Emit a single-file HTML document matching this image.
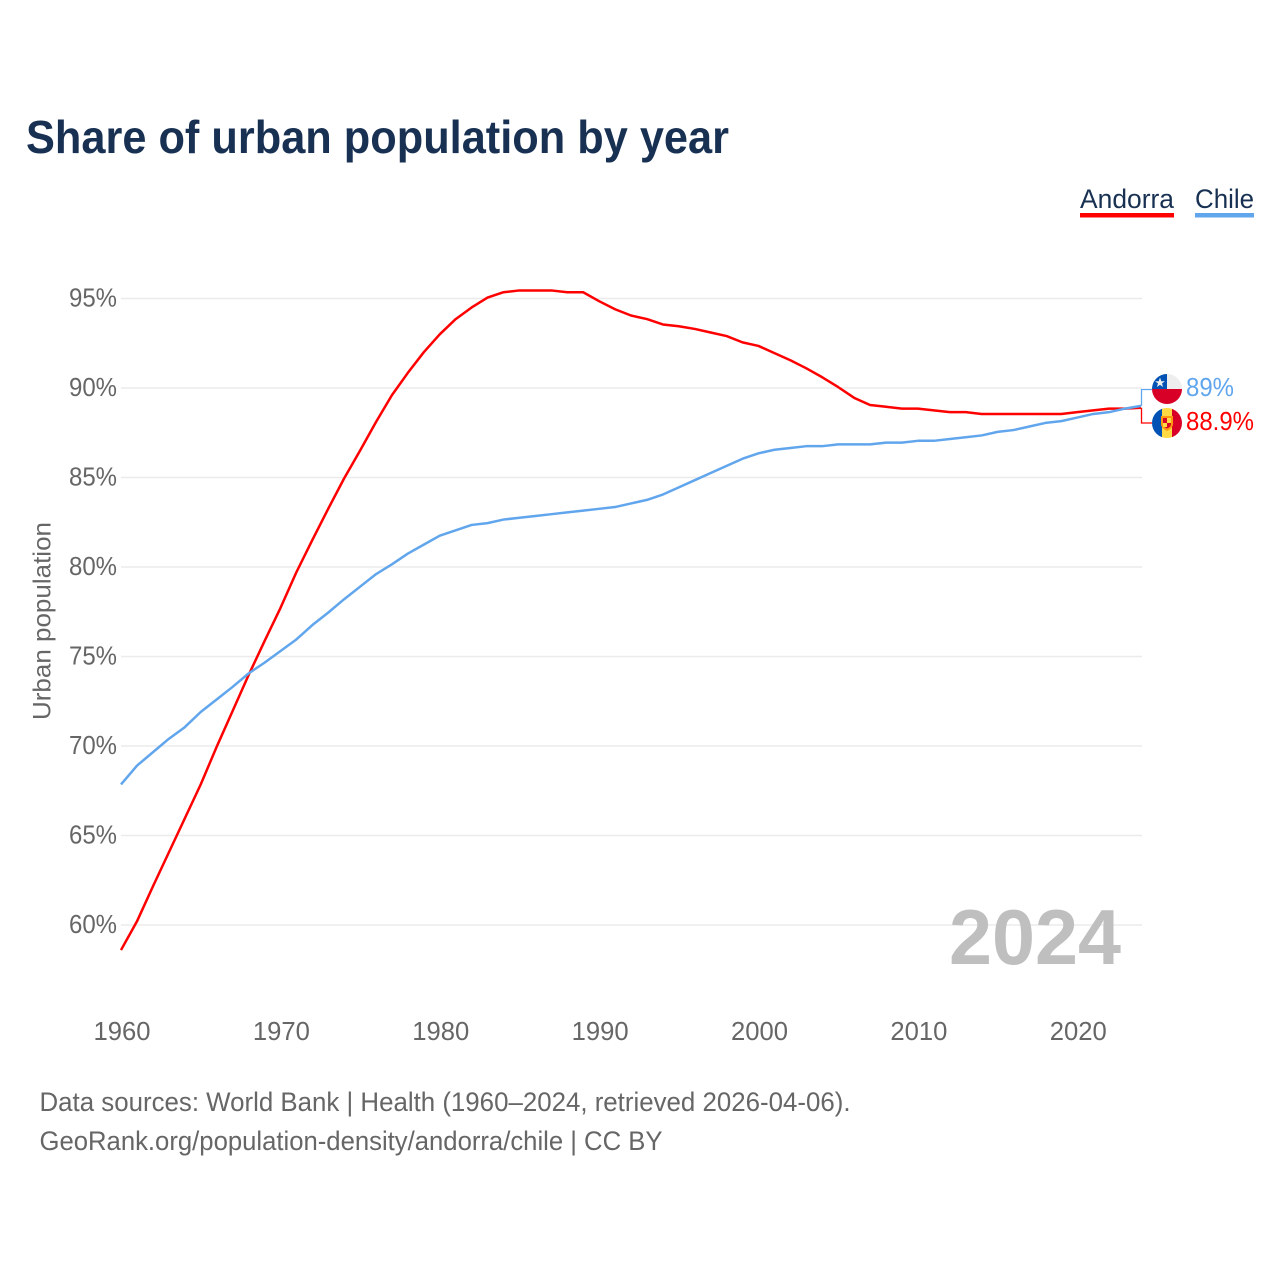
<!DOCTYPE html>
<html>
<head>
<meta charset="utf-8">
<title>Share of urban population by year</title>
<style>
html,body{margin:0;padding:0;background:#fff;width:1280px;height:1280px;overflow:hidden}
svg{display:block;font-family:"Liberation Sans",sans-serif}
</style>
</head>
<body>
<svg id="chart" xmlns="http://www.w3.org/2000/svg" width="1280" height="1280" viewBox="0 0 1280 1280">
  <defs>
    <clipPath id="clip-chile"><circle cx="1167" cy="389" r="15"/></clipPath>
    <clipPath id="clip-andorra"><circle cx="1167" cy="423" r="15"/></clipPath>
  </defs>
  <rect x="0" y="0" width="1280" height="1280" fill="#fff"/>
  <text x="26" y="153" font-size="46" font-weight="bold" fill="#183153" textLength="703" lengthAdjust="spacingAndGlyphs">Share of urban population by year</text>

  <g>
    <text x="1080" y="208" font-size="27" fill="#183153" textLength="94" lengthAdjust="spacingAndGlyphs">Andorra</text>
    <rect x="1080" y="213" width="94" height="4.500" fill="#ff0000"/>
  </g>
  <g>
    <text x="1195" y="208" font-size="27" fill="#183153" textLength="59" lengthAdjust="spacingAndGlyphs">Chile</text>
    <rect x="1195" y="213" width="59" height="4.500" fill="#61a6ed"/>
  </g>

  <g id="grid"></g>
  <g id="yticks"></g>
  <g id="xticks"></g>
  <text transform="translate(50.500,720) rotate(-90)" font-size="25" fill="#666" textLength="198" lengthAdjust="spacingAndGlyphs">Urban population</text>

  <text x="949" y="964" font-size="78" font-weight="bold" fill="#bfbfbf" textLength="172" lengthAdjust="spacingAndGlyphs">2024</text>

  <polyline id="line-andorra" fill="none" stroke="#ff0000" stroke-width="2.500" stroke-linejoin="round"/>
  <polyline id="line-chile" fill="none" stroke="#61a6ed" stroke-width="2.500" stroke-linejoin="round"/>

  <polyline id="connector-chile" fill="none" stroke="#61a6ed" stroke-width="1.300"/>
  <polyline id="connector-andorra" fill="none" stroke="#ff0000" stroke-width="1.300"/>

  <g clip-path="url(#clip-chile)">
    <rect x="1152" y="374" width="30" height="15" fill="#eeeeee"/>
    <rect x="1152" y="389" width="30" height="15" fill="#d80027"/>
    <rect x="1152" y="374" width="15" height="15" fill="#0052b4"/>
    <polygon points="1160,377.5 1161.3,381.2 1165,381.2 1162,383.4 1163.1,387 1160,384.9 1156.9,387 1158,383.4 1155,381.2 1158.7,381.2" fill="#eeeeee"/>
  </g>
  <g clip-path="url(#clip-andorra)">
    <rect x="1152" y="408" width="10" height="30" fill="#0052b4"/>
    <rect x="1162" y="408" width="10" height="30" fill="#ffda44"/>
    <rect x="1172" y="408" width="10" height="30" fill="#d80027"/>
    <path d="M1161 416h12v8q0 4-6 7q-6-3-6-7z" fill="#ff9811"/>
    <path d="M1163 418h8v6q0 3-4 4.500q-4-1.500-4-4.500z" fill="#d80027"/>
    <rect x="1167" y="418" width="4" height="5" fill="#ffda44"/>
    <rect x="1163" y="423" width="4" height="4" fill="#ffda44"/>
  </g>
  <text x="1186" y="396" font-size="26" fill="#61a6ed" textLength="48" lengthAdjust="spacingAndGlyphs">89%</text>
  <text x="1186" y="430" font-size="26" fill="#ff0000" textLength="68" lengthAdjust="spacingAndGlyphs">88.9%</text>

  <text x="39.500" y="1111" font-size="26.500" fill="#666" textLength="811" lengthAdjust="spacingAndGlyphs">Data sources: World Bank | Health (1960–2024, retrieved 2026-04-06).</text>
  <text x="39.500" y="1150" font-size="26.500" fill="#666" textLength="623" lengthAdjust="spacingAndGlyphs">GeoRank.org/population-density/andorra/chile | CC BY</text>
</svg>
<script>
const startYear = 1960;
const yTickValues = [60, 65, 70, 75, 80, 85, 90, 95];
const xTickValues = [1960, 1970, 1980, 1990, 2000, 2010, 2020];
const andorraValues = [58.6, 60.2, 62.15, 64.05, 65.95, 67.85, 69.95, 71.95, 73.95, 75.85,
  77.7, 79.7, 81.5, 83.25, 84.95, 86.5, 88.1, 89.6, 90.85, 92.0,
  93.0, 93.85, 94.5, 95.05, 95.35, 95.45, 95.45, 95.45, 95.35, 95.35,
  94.85, 94.4, 94.05, 93.85, 93.55, 93.45, 93.3, 93.1, 92.9, 92.55,
  92.35, 91.95, 91.55, 91.1, 90.6, 90.05, 89.45, 89.05, 88.95, 88.85,
  88.85, 88.75, 88.65, 88.65, 88.55, 88.55, 88.55, 88.55, 88.55, 88.55,
  88.65, 88.75, 88.85, 88.85, 88.9];
const chileValues = [67.85, 68.9, 69.65, 70.4, 71.05, 71.9, 72.6, 73.3, 74.05, 74.65,
  75.3, 75.95, 76.75, 77.45, 78.2, 78.9, 79.6, 80.15, 80.75, 81.25,
  81.75, 82.05, 82.35, 82.45, 82.65, 82.75, 82.85, 82.95, 83.05, 83.15,
  83.25, 83.35, 83.55, 83.75, 84.05, 84.45, 84.85, 85.25, 85.65, 86.05,
  86.35, 86.55, 86.65, 86.75, 86.75, 86.85, 86.85, 86.85, 86.95, 86.95,
  87.05, 87.05, 87.15, 87.25, 87.35, 87.55, 87.65, 87.85, 88.05, 88.15,
  88.35, 88.55, 88.65, 88.85, 89.0];

function xScale(year) { return 121 + (year - 1960) * (1141 - 121) / 64; }
function yScale(pct) { return 925 - (pct - 60) * (925 - 298.5) / 35; }

const NS = 'http://www.w3.org/2000/svg';
const grid = document.getElementById('grid');
const yticks = document.getElementById('yticks');
const xticks = document.getElementById('xticks');

yTickValues.forEach(function (v) {
  const line = document.createElementNS(NS, 'line');
  
  
  line.setAttribute('x1', 121);
  line.setAttribute('x2', 1142);
  line.setAttribute('y1', yScale(v));
  line.setAttribute('y2', yScale(v));
  line.setAttribute('stroke', '#ebebeb');
  line.setAttribute('stroke-width', '1.500');
  grid.appendChild(line);

  const label = document.createElementNS(NS, 'text');
  
  
  label.setAttribute('x', 69);
  label.setAttribute('y', yScale(v) + 8);
  label.setAttribute('font-size', '26');
  label.setAttribute('fill', '#666');
  label.setAttribute('textLength', '48');
  label.setAttribute('lengthAdjust', 'spacingAndGlyphs');
  label.textContent = v + '%';
  yticks.appendChild(label);
});

xTickValues.forEach(function (y) {
  const label = document.createElementNS(NS, 'text');
  
  
  label.setAttribute('x', xScale(y) - 27.500);
  label.setAttribute('y', 1040);
  label.setAttribute('font-size', '26');
  label.setAttribute('fill', '#666');
  label.setAttribute('textLength', '57');
  label.setAttribute('lengthAdjust', 'spacingAndGlyphs');
  label.textContent = y;
  xticks.appendChild(label);
});

function toPoints(values) {
  return values.map(function (v, i) {
    return xScale(startYear + i).toFixed(2) + ',' + yScale(v).toFixed(2);
  }).join(' ');
}
document.getElementById('line-andorra').setAttribute('points', toPoints(andorraValues));
document.getElementById('line-chile').setAttribute('points', toPoints(chileValues));

const lastYear = startYear + andorraValues.length - 1;
const endX = xScale(lastYear) + 0.5;
document.getElementById('connector-chile').setAttribute('points',
  endX + ',' + yScale(chileValues[chileValues.length - 1]) + ' ' + endX + ',389.5 1152,389.5');
document.getElementById('connector-andorra').setAttribute('points',
  endX + ',' + yScale(andorraValues[andorraValues.length - 1]) + ' ' + endX + ',423 1152,423');
</script>
</body>
</html>
